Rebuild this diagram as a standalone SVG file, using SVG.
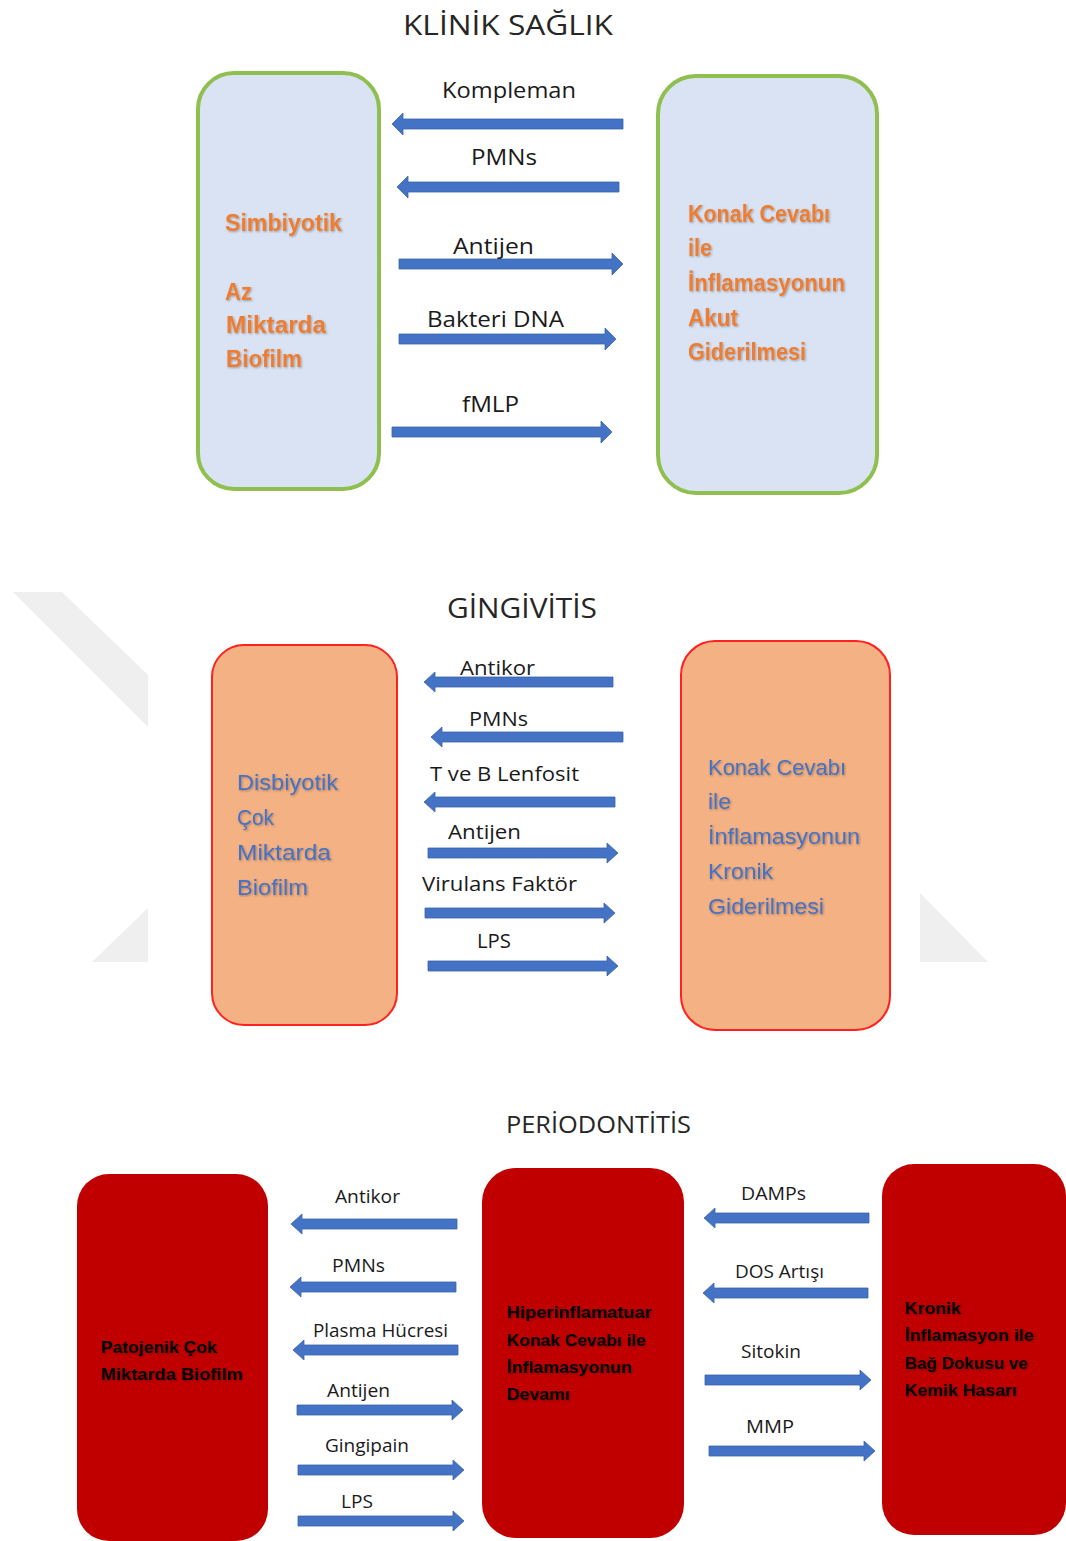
<svg xmlns="http://www.w3.org/2000/svg" width="1066" height="1541" viewBox="0 0 1066 1541">
<style>
  .title { font-family: "Open Sans", "Liberation Sans", sans-serif; font-size: 27px; fill: #262626; }
  .lbl { font-family: "Open Sans", "Liberation Sans", sans-serif; font-size: 21px; fill: #1a1a1a; }
  .lbl3 { font-family: "Open Sans", "Liberation Sans", sans-serif; font-size: 18px; fill: #1a1a1a; }
  .orange { font-family: "Liberation Sans", sans-serif; font-size: 23px; font-weight: bold; fill: #ed7d31; }
  .blue { font-family: "Liberation Sans", sans-serif; font-size: 22px; fill: #4472c4; }
  .dark { font-family: "Liberation Sans", sans-serif; font-size: 17px; font-weight: bold; fill: #000; }
  .arrow { fill: #4472c4; stroke: #3b64ad; stroke-width: 0.8; }
  .boxA { fill: #dae3f3; stroke: #8fbf4f; stroke-width: 4; }
  .boxB { fill: #f4b183; stroke: #ff2020; stroke-width: 2; }
  .boxC { fill: #c00000; }
  .wm { fill: #efefef; }
</style>
<defs>
  <filter id="sh" x="-10%" y="-30%" width="130%" height="170%">
    <feDropShadow dx="1" dy="1" stdDeviation="0.8" flood-color="#000" flood-opacity="0.3"/>
  </filter>
</defs>
<rect width="1066" height="1541" fill="#fff"/>

<!-- watermark shapes -->
<polygon class="wm" points="13,592 62,592 148,675 148,727"/>
<polygon class="wm" points="148,908 148,962 92,962"/>
<polygon class="wm" points="920,893 988,962 920,962"/>

<!-- titles -->
<text class="title" x="403" y="35" textLength="210" lengthAdjust="spacingAndGlyphs">KLİNİK SAĞLIK</text>
<text class="title" x="447" y="618" textLength="150" lengthAdjust="spacingAndGlyphs">GİNGİVİTİS</text>
<text class="title" x="506" y="1133" style="font-size:24px" textLength="185" lengthAdjust="spacingAndGlyphs">PERİODONTİTİS</text>

<!-- Section 1 nodes -->
<g id="simbiyotik">
  <rect class="boxA" x="198" y="73" width="181" height="416" rx="36"/>
  <g filter="url(#sh)">
    <text class="orange" x="225" y="231" textLength="117" lengthAdjust="spacingAndGlyphs">Simbiyotik</text>
    <text class="orange" x="225" y="300" textLength="27" lengthAdjust="spacingAndGlyphs">Az</text>
    <text class="orange" x="226" y="333" textLength="100" lengthAdjust="spacingAndGlyphs">Miktarda</text>
    <text class="orange" x="226" y="367" textLength="76" lengthAdjust="spacingAndGlyphs">Biofilm</text>
  </g>
</g>
<g id="akut">
  <rect class="boxA" x="658" y="76" width="219" height="417" rx="38"/>
  <g filter="url(#sh)">
    <text class="orange" x="688" y="222" textLength="142" lengthAdjust="spacingAndGlyphs">Konak Cevabı</text>
    <text class="orange" x="688" y="256" textLength="24" lengthAdjust="spacingAndGlyphs">ile</text>
    <text class="orange" x="688" y="291" textLength="157" lengthAdjust="spacingAndGlyphs">İnflamasyonun</text>
    <text class="orange" x="688" y="326" textLength="50" lengthAdjust="spacingAndGlyphs">Akut</text>
    <text class="orange" x="688" y="360" textLength="118" lengthAdjust="spacingAndGlyphs">Giderilmesi</text>
  </g>
</g>

<!-- Section 2 nodes -->
<g id="disbiyotik">
  <rect class="boxB" x="212" y="645" width="185" height="380" rx="32"/>
  <g filter="url(#sh)">
    <text class="blue" x="237" y="790" textLength="101" lengthAdjust="spacingAndGlyphs">Disbiyotik</text>
    <text class="blue" x="237" y="825" textLength="37" lengthAdjust="spacingAndGlyphs">Çok</text>
    <text class="blue" x="237" y="860" textLength="94" lengthAdjust="spacingAndGlyphs">Miktarda</text>
    <text class="blue" x="237" y="895" textLength="71" lengthAdjust="spacingAndGlyphs">Biofilm</text>
  </g>
</g>
<g id="kronik">
  <rect class="boxB" x="681" y="641" width="209" height="389" rx="34"/>
  <g filter="url(#sh)">
    <text class="blue" x="708" y="775" textLength="138" lengthAdjust="spacingAndGlyphs">Konak Cevabı</text>
    <text class="blue" x="708" y="809" textLength="23" lengthAdjust="spacingAndGlyphs">ile</text>
    <text class="blue" x="708" y="844" textLength="152" lengthAdjust="spacingAndGlyphs">İnflamasyonun</text>
    <text class="blue" x="708" y="879" textLength="65" lengthAdjust="spacingAndGlyphs">Kronik</text>
    <text class="blue" x="708" y="914" textLength="116" lengthAdjust="spacingAndGlyphs">Giderilmesi</text>
  </g>
</g>

<!-- Section 3 nodes -->
<g id="patojenik">
  <rect class="boxC" x="77" y="1174" width="191" height="367" rx="32"/>
  <g filter="url(#sh)">
    <text class="dark" x="101" y="1353" textLength="116" lengthAdjust="spacingAndGlyphs">Patojenik Çok</text>
    <text class="dark" x="101" y="1380" textLength="142" lengthAdjust="spacingAndGlyphs">Miktarda Biofilm</text>
  </g>
</g>
<g id="hiperinflamatuar">
  <rect class="boxC" x="482" y="1168" width="202" height="370" rx="34"/>
  <g filter="url(#sh)">
    <text class="dark" x="507" y="1318" textLength="145" lengthAdjust="spacingAndGlyphs">Hiperinflamatuar</text>
    <text class="dark" x="507" y="1346" textLength="139" lengthAdjust="spacingAndGlyphs">Konak Cevabı ile</text>
    <text class="dark" x="507" y="1373" textLength="125" lengthAdjust="spacingAndGlyphs">İnflamasyonun</text>
    <text class="dark" x="507" y="1400" textLength="63" lengthAdjust="spacingAndGlyphs">Devamı</text>
  </g>
</g>
<g id="hasar">
  <rect class="boxC" x="882" y="1164" width="184" height="371" rx="32"/>
  <g filter="url(#sh)">
    <text class="dark" x="905" y="1314" textLength="56" lengthAdjust="spacingAndGlyphs">Kronik</text>
    <text class="dark" x="905" y="1341" textLength="129" lengthAdjust="spacingAndGlyphs">İnflamasyon ile</text>
    <text class="dark" x="905" y="1369" textLength="123" lengthAdjust="spacingAndGlyphs">Bağ Dokusu ve</text>
    <text class="dark" x="905" y="1396" textLength="112" lengthAdjust="spacingAndGlyphs">Kemik Hasarı</text>
  </g>
</g>

<!-- connectors -->
<g id="connectors">
  <!-- Section 1 -->
  <path class="arrow" d="M623,119 L403,119 L403,113 L392,124 L403,135 L403,129 L623,129 Z"/>
  <path class="arrow" d="M619,182 L408,182 L408,176 L397,187 L408,198 L408,192 L619,192 Z"/>
  <path class="arrow" d="M399,259 L612,259 L612,253 L623,264 L612,275 L612,269 L399,269 Z"/>
  <path class="arrow" d="M399,334 L605,334 L605,328 L616,339 L605,350 L605,344 L399,344 Z"/>
  <path class="arrow" d="M392,427 L601,427 L601,421 L612,432 L601,443 L601,437 L392,437 Z"/>

  <!-- Section 2 -->
  <path class="arrow" d="M613,677 L435,677 L435,672 L424,682 L435,692 L435,687 L613,687 Z"/>
  <path class="arrow" d="M623,732 L442,732 L442,727 L431,737 L442,747 L442,742 L623,742 Z"/>
  <path class="arrow" d="M615,797 L435,797 L435,792 L424,802 L435,812 L435,807 L615,807 Z"/>
  <path class="arrow" d="M428,848 L607,848 L607,843 L618,853 L607,863 L607,858 L428,858 Z"/>
  <path class="arrow" d="M425,908 L604,908 L604,903 L615,913 L604,923 L604,918 L425,918 Z"/>
  <path class="arrow" d="M428,961 L607,961 L607,956 L618,966 L607,976 L607,971 L428,971 Z"/>

  <!-- Section 3 left -->
  <path class="arrow" d="M457,1219 L302,1219 L302,1214 L291,1224 L302,1234 L302,1229 L457,1229 Z"/>
  <path class="arrow" d="M456,1282 L301,1282 L301,1277 L290,1287 L301,1297 L301,1292 L456,1292 Z"/>
  <path class="arrow" d="M458,1345 L304,1345 L304,1340 L293,1350 L304,1360 L304,1355 L458,1355 Z"/>
  <path class="arrow" d="M297,1405 L452,1405 L452,1400 L463,1410 L452,1420 L452,1415 L297,1415 Z"/>
  <path class="arrow" d="M298,1465 L453,1465 L453,1460 L464,1470 L453,1480 L453,1475 L298,1475 Z"/>
  <path class="arrow" d="M298,1516 L453,1516 L453,1511 L464,1521 L453,1531 L453,1526 L298,1526 Z"/>

  <!-- Section 3 right -->
  <path class="arrow" d="M869,1213 L715,1213 L715,1208 L704,1218 L715,1228 L715,1223 L869,1223 Z"/>
  <path class="arrow" d="M868,1288 L714,1288 L714,1283 L703,1293 L714,1303 L714,1298 L868,1298 Z"/>
  <path class="arrow" d="M705,1375 L860,1375 L860,1370 L871,1380 L860,1390 L860,1385 L705,1385 Z"/>
  <path class="arrow" d="M709,1446 L864,1446 L864,1441 L875,1451 L864,1461 L864,1456 L709,1456 Z"/>

  <!-- labels -->
  <text class="lbl" x="442" y="98" textLength="134" lengthAdjust="spacingAndGlyphs">Kompleman</text>
  <text class="lbl" x="471" y="165" textLength="66" lengthAdjust="spacingAndGlyphs">PMNs</text>
  <text class="lbl" x="453" y="254" textLength="81" lengthAdjust="spacingAndGlyphs">Antijen</text>
  <text class="lbl" x="427" y="327" textLength="137" lengthAdjust="spacingAndGlyphs">Bakteri DNA</text>
  <text class="lbl" x="462" y="412" textLength="57" lengthAdjust="spacingAndGlyphs">fMLP</text>

  <text class="lbl" style="font-size:20px" x="460" y="675" textLength="75" lengthAdjust="spacingAndGlyphs">Antikor</text>
  <text class="lbl" style="font-size:20px" x="469" y="726" textLength="59" lengthAdjust="spacingAndGlyphs">PMNs</text>
  <text class="lbl" style="font-size:20px" x="430" y="781" textLength="149" lengthAdjust="spacingAndGlyphs">T ve B Lenfosit</text>
  <text class="lbl" style="font-size:20px" x="448" y="839" textLength="73" lengthAdjust="spacingAndGlyphs">Antijen</text>
  <text class="lbl" style="font-size:20px" x="422" y="891" textLength="155" lengthAdjust="spacingAndGlyphs">Virulans Faktör</text>
  <text class="lbl" style="font-size:20px" x="477" y="948" textLength="34" lengthAdjust="spacingAndGlyphs">LPS</text>

  <text class="lbl3" x="335" y="1203" textLength="65" lengthAdjust="spacingAndGlyphs">Antikor</text>
  <text class="lbl3" x="332" y="1272" textLength="53" lengthAdjust="spacingAndGlyphs">PMNs</text>
  <text class="lbl3" x="313" y="1337" textLength="135" lengthAdjust="spacingAndGlyphs">Plasma Hücresi</text>
  <text class="lbl3" x="327" y="1397" textLength="63" lengthAdjust="spacingAndGlyphs">Antijen</text>
  <text class="lbl3" x="325" y="1452" textLength="84" lengthAdjust="spacingAndGlyphs">Gingipain</text>
  <text class="lbl3" x="341" y="1508" textLength="32" lengthAdjust="spacingAndGlyphs">LPS</text>

  <text class="lbl3" x="741" y="1200" textLength="65" lengthAdjust="spacingAndGlyphs">DAMPs</text>
  <text class="lbl3" x="735" y="1278" textLength="89" lengthAdjust="spacingAndGlyphs">DOS Artışı</text>
  <text class="lbl3" x="741" y="1358" textLength="60" lengthAdjust="spacingAndGlyphs">Sitokin</text>
  <text class="lbl3" x="746" y="1433" textLength="48" lengthAdjust="spacingAndGlyphs">MMP</text>
</g>
</svg>
